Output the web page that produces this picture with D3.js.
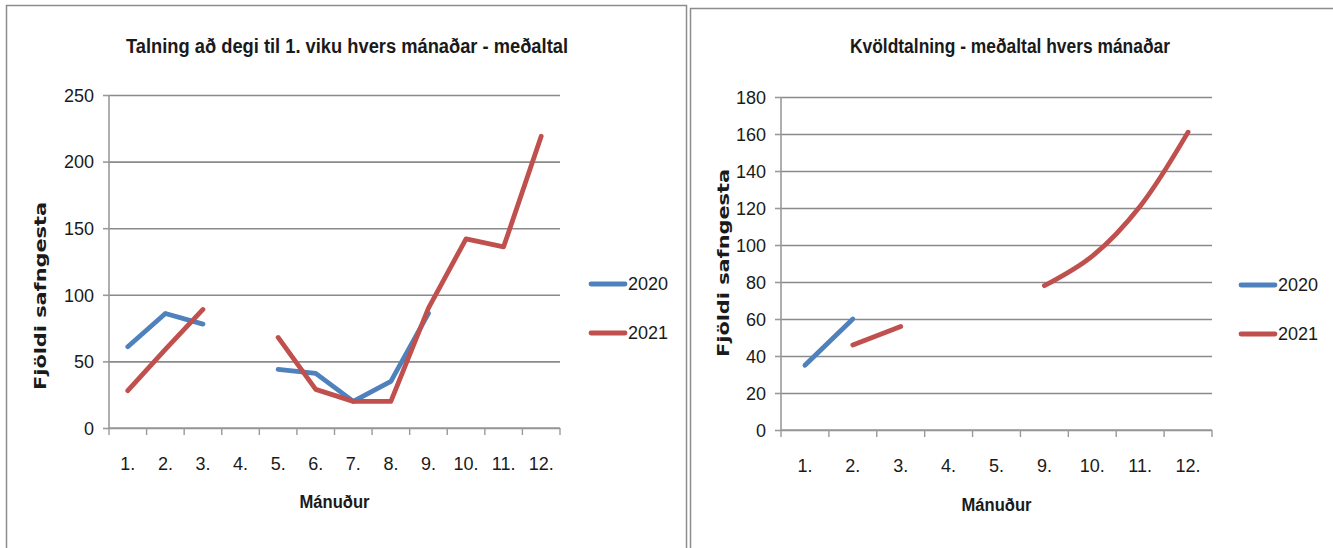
<!DOCTYPE html>
<html><head><meta charset="utf-8">
<script src="https://cdn.jsdelivr.net/npm/d3@7"></script>
<style>
html,body{margin:0;padding:0;background:#fff;}
svg{display:block;}
text{font-family:"Liberation Sans Narrow","Arial Narrow","Liberation Sans",sans-serif;fill:#1a1a1a;}
</style></head><body>
<svg id="c" width="1333" height="548"></svg>
<script>
// ---- data ----
const leftTitle = "Talning að degi til 1. viku hvers mánaðar - meðaltal";
const rightTitle = "Kvöldtalning - meðaltal hvers mánaðar";
const yTitle = "Fjöldi safngesta";
const xTitle = "Mánuður";
const seriesNames = ["2020", "2021"];
const seriesColors = ["#4F81BD", "#C0504D"];

const leftMonths = ["1.","2.","3.","4.","5.","6.","7.","8.","9.","10.","11.","12."];
const left2020 = [61, 86, 78, null, 44, 41, 20, 35, 86, null, null, null];
const left2021 = [28, 59, 89, null, 68, 29, 20, 20, 90, 142, 136, 219];
const leftTicks = [0, 50, 100, 150, 200, 250];

const rightMonths = ["1.","2.","3.","4.","5.","9.","10.","11.","12."];
const right2020 = [35, 60, null, null, null, null, null, null, null];
const right2021 = [null, 46, 56, null, null, 78, 94, 121, 161];
const rightTicks = [0, 20, 40, 60, 80, 100, 120, 140, 160, 180];

const svg = d3.select("#c");

// panel borders
svg.append("rect").attr("x",6.5).attr("y",5.5).attr("width",680).attr("height",560)
  .attr("fill","none").attr("stroke","#8c8c8c").attr("stroke-width",1.5);
svg.append("rect").attr("x",690.5).attr("y",8.5).attr("width",660).attr("height",560)
  .attr("fill","none").attr("stroke","#8c8c8c").attr("stroke-width",1.5);

function chart(cfg){
  const g = svg.append("g");
  const x = d3.scaleBand().domain(cfg.cats).range([cfg.x0, cfg.x1]).paddingInner(0).paddingOuter(0);
  const y = d3.scaleLinear().domain([0, cfg.ymax]).range([cfg.y0, cfg.y1]);
  // grid
  const grid = g.append("g").attr("transform",`translate(${cfg.x0},0)`)
    .call(d3.axisLeft(y).tickValues(cfg.ticks).tickSize(-(cfg.x1-cfg.x0)).tickFormat(""));
  grid.select(".domain").remove();
  grid.selectAll("line").attr("stroke","#8a8a8a").attr("stroke-width",1.6);
  // y axis with outer ticks and labels
  const ya = g.append("g").attr("transform",`translate(${cfg.x0},0)`)
    .call(d3.axisLeft(y).tickValues(cfg.ticks).tickSize(6).tickPadding(9));
  ya.select(".domain").attr("stroke","#9a9a9a").attr("stroke-width",1.6).attr("d",`M0,${cfg.y0}V${cfg.y1}`);
  ya.selectAll("line").attr("stroke","#9a9a9a").attr("stroke-width",1.6);
  ya.selectAll("text").style("font-size","18px").attr("fill","#1a1a1a").attr("dy","0.35em");
  // x axis
  const xa = g.append("g").attr("transform",`translate(0,${cfg.y0})`)
    .call(d3.axisBottom(x).tickSize(0).tickPadding(29));
  xa.select(".domain").attr("stroke","#9a9a9a").attr("stroke-width",1.6).attr("d",`M${cfg.x0},0H${cfg.x1}`);
  xa.selectAll("text").style("font-size","18px").attr("fill","#1a1a1a");
  const edges = cfg.cats.map(c => x(c)).concat([x(cfg.cats[cfg.cats.length-1]) + x.bandwidth()]);
  xa.selectAll("line.edge").data(edges).enter().append("line").attr("class","edge")
    .attr("x1",d=>d).attr("x2",d=>d).attr("y1",0).attr("y2",7)
    .attr("stroke","#9a9a9a").attr("stroke-width",1.4);
  // lines
  cfg.series.forEach((s,i)=>{
    const line = d3.line().defined(d=>d!=null)
      .x((d,j)=>x(cfg.cats[j]) + x.bandwidth()/2).y(d=>y(d))
      .curve(cfg.curve || d3.curveLinear);
    g.append("path").attr("d", line(s)).attr("fill","none")
      .attr("stroke", seriesColors[i]).attr("stroke-width",4.8)
      .attr("stroke-linecap","round").attr("stroke-linejoin","round");
  });
  // legend
  seriesNames.forEach((n,i)=>{
    const ly = cfg.legY[i];
    g.append("line").attr("x1",cfg.legX).attr("x2",cfg.legX+34).attr("y1",ly).attr("y2",ly)
      .attr("stroke",seriesColors[i]).attr("stroke-width",4.8).attr("stroke-linecap","round");
    g.append("text").attr("x",cfg.legX+37).attr("y",ly).attr("dy","0.35em")
      .style("font-size","18px").text(n);
  });
  // titles
  g.append("text").attr("x",cfg.titleX).attr("y",cfg.titleY).attr("text-anchor","middle")
    .style("font-size","20px").style("font-weight","bold")
    .attr("textLength",cfg.titleLen).attr("lengthAdjust","spacingAndGlyphs").text(cfg.title);
  g.append("text").attr("x",(cfg.x0+cfg.x1)/2).attr("y",cfg.xTitleY).attr("text-anchor","middle")
    .style("font-size","18px").style("font-weight","bold")
    .attr("textLength",70).attr("lengthAdjust","spacingAndGlyphs").text(xTitle);
  g.append("text").attr("transform",`translate(${cfg.yTitleX},${cfg.yTitleCY}) rotate(-90)`)
    .attr("text-anchor","middle").attr("dy","0.35em")
    .style("font-family","'DejaVu Sans',Verdana,sans-serif").style("font-size","16px").style("font-weight","bold")
    .attr("textLength",188).attr("lengthAdjust","spacingAndGlyphs").text(yTitle);
}

chart({cats:leftMonths, x0:109, x1:560, y0:428, y1:95, ymax:250, ticks:leftTicks,
  series:[left2020,left2021], legX:591, legY:[284,333],
  title:leftTitle, titleX:347, titleY:53, titleLen:442, xTitleY:508,
  yTitleX:40, yTitleCY:296});

chart({cats:rightMonths, x0:781, x1:1212, y0:430, y1:97, ymax:180, ticks:rightTicks,
  series:[right2020,right2021], legX:1241, legY:[285,334], curve:d3.curveCatmullRom.alpha(0.5),
  title:rightTitle, titleX:1010, titleY:53, titleLen:320, xTitleY:511,
  yTitleX:723, yTitleCY:263});
</script>
</body></html>
